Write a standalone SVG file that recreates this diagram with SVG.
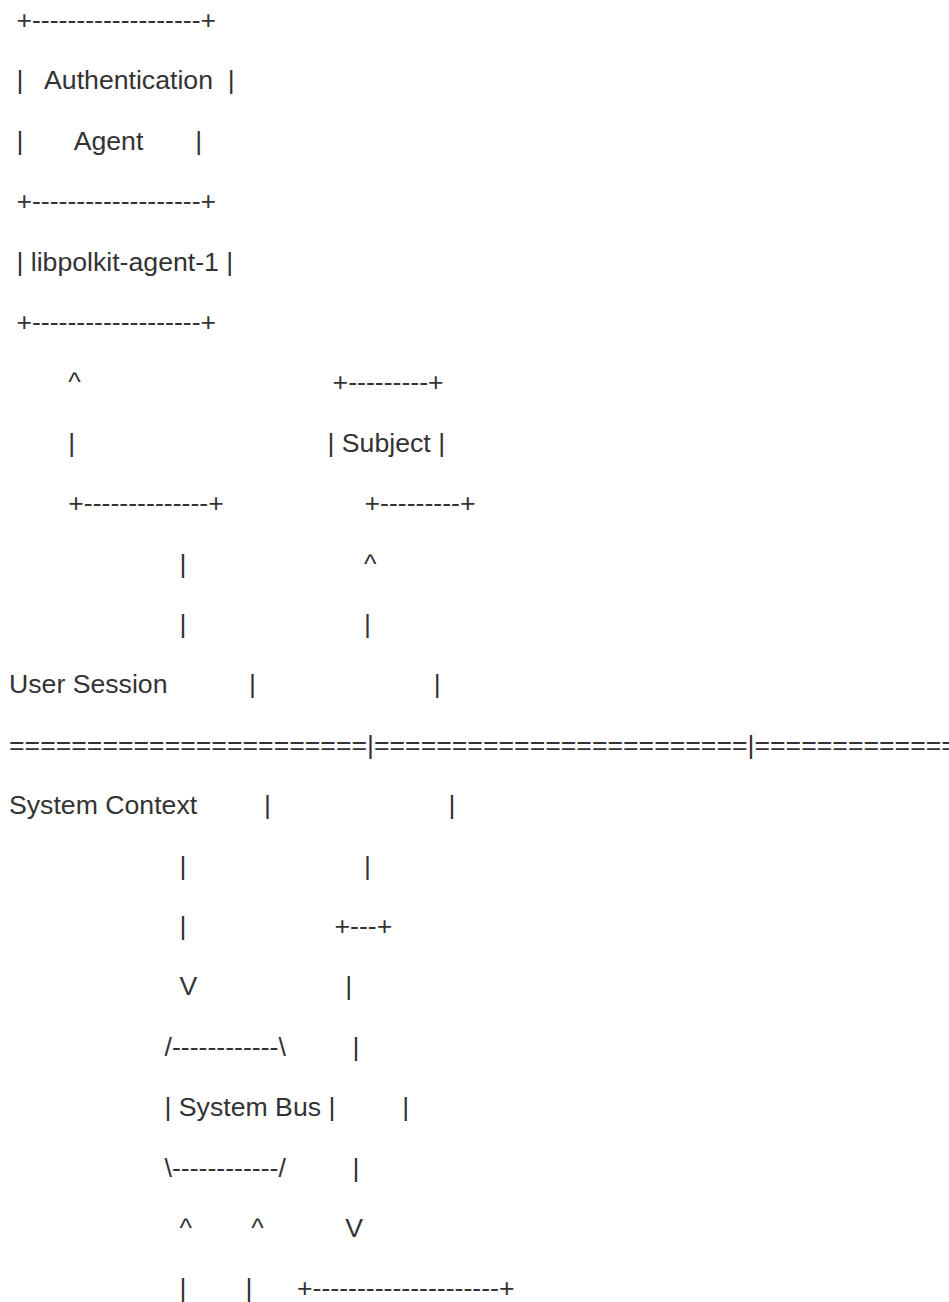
<svg xmlns="http://www.w3.org/2000/svg" width="949" height="1302" viewBox="0 0 949 1302" xml:space="preserve">
<style>
text { font-family: "Liberation Sans", Arial, sans-serif; font-size: 26.67px; fill: #333333; white-space: pre; }
</style>
<rect x="0" y="0" width="949" height="1302" fill="#ffffff"/>
<g id="auth-agent">
<text x="16.4" y="29">+-------------------+</text>
<text x="16.4" y="89.4">|   Authentication  |</text>
<text x="16.4" y="149.8">|       Agent       |</text>
<text x="16.4" y="210.2">+-------------------+</text>
<text x="16.4" y="270.6">| libpolkit-agent-1 |</text>
<text x="16.4" y="331">+-------------------+</text>
</g>
<g id="subject">
<text x="332.6" y="391.4">+---------+</text>
<text x="327.5" y="451.8">| Subject |</text>
<text x="364.5" y="512.2">+---------+</text>
</g>
<g id="labels">
<text x="9" y="693.4">User Session</text>
<text x="9" y="753.8">=======================|========================|=============</text>
<text x="9" y="814.2">System Context</text>
</g>
<g id="system-bus">
<text x="164.5" y="1055.8">/------------\</text>
<text x="164.5" y="1116.2">| System Bus |</text>
<text x="164.5" y="1176.6">\------------/</text>
</g>
<g id="polkitd">
<text x="297" y="1297.4">+---------------------+</text>
</g>
<g id="connectors">
<text x="68.3" y="391.4">^</text>
<text x="68.3" y="451.8">|</text>
<text x="68.3" y="512.2">+--------------+</text>
<text x="179.4" y="572.6">|</text>
<text x="364.1" y="572.6">^</text>
<text x="179.4" y="633">|</text>
<text x="364.1" y="633">|</text>
<text x="249.1" y="693.4">|</text>
<text x="433.8" y="693.4">|</text>
<text x="263.9" y="814.2">|</text>
<text x="448.6" y="814.2">|</text>
<text x="179.4" y="874.6">|</text>
<text x="364.1" y="874.6">|</text>
<text x="179.4" y="935">|</text>
<text x="334.5" y="935">+---+</text>
<text x="179.4" y="995.4">V</text>
<text x="345.3" y="995.4">|</text>
<text x="352.6" y="1055.8">|</text>
<text x="402.2" y="1116.2">|</text>
<text x="352.6" y="1176.6">|</text>
<text x="179.4" y="1237">^</text>
<text x="251.2" y="1237">^</text>
<text x="345.2" y="1237">V</text>
<text x="179.4" y="1297.4">|</text>
<text x="245.6" y="1297.4">|</text>
</g>
</svg>
